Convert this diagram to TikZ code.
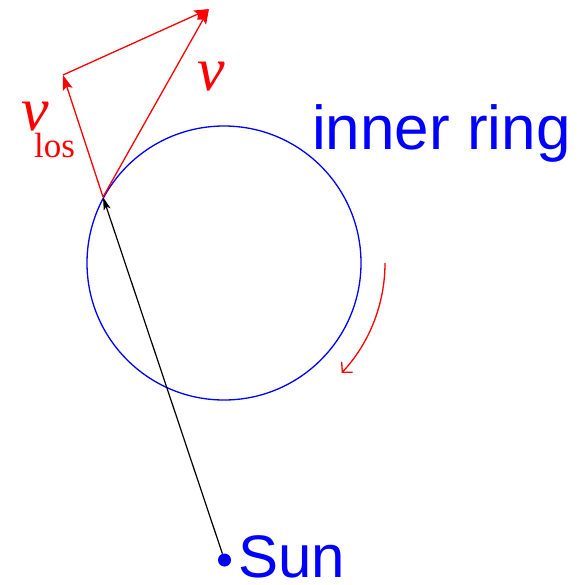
\documentclass[tikz,border=0pt]{standalone}
\usepackage{fontspec}
\setmainfont{Liberation Serif}
\newfontfamily\helv{Liberation Sans}
\usetikzlibrary{arrows.meta}
\begin{document}
\begin{tikzpicture}[x=1pt,y=-1pt,
  redarrow/.style={draw=red, line width=1.3pt, -{Stealth[length=15pt,width=10pt,inset=3pt]}},
  blackarrow/.style={draw=black, line width=1.2pt, -{Stealth[length=13pt,width=7pt,inset=3pt]}},
  bluelabel/.style={text=blue, anchor=base west, inner sep=0pt, font=\helv\fontsize{62}{62}\selectfont},
  redlabel/.style={text=red, anchor=base west, inner sep=0pt}]
\useasboundingbox (0,0) rectangle (588,584);
\node[draw=blue, line width=1.3pt, circle, minimum size=274pt, inner sep=0pt] (ring) at (224,263) {};
\coordinate (p) at (103,197);
\coordinate (vl) at (63,75);
\coordinate (vt) at (209,9);
\node[circle, fill=blue, inner sep=0pt, minimum size=13pt] (sun) at (224.5,560) {};
\draw[blackarrow] (sun) -- (p);
\draw[redarrow] (p) -- (vt);
\draw[redarrow] (p) -- (vl);
\draw[redarrow] (vl) -- (vt);
\coordinate (rs) at (385,263);
\draw[red, line width=1.3pt, -{Straight Barb[length=7pt,width=15pt]}] (rs) arc[start angle=0, end angle=43, radius=161];
\node[bluelabel] (ringlabel) at (312,149) {inner ring};
\node[bluelabel, font=\helv\fontsize{60}{60}\selectfont] (sunlabel) at (238,577) {Sun};
\node[redlabel, font=\fontsize{62}{62}\selectfont\itshape] (v) at (197,90) {v};
\node[redlabel, font=\fontsize{62}{62}\selectfont\itshape] (vlos) at (21,130) {v};
\node[redlabel, font=\fontsize{35}{35}\selectfont] (los) at (34,157) {los};
\end{tikzpicture}
\end{document}
